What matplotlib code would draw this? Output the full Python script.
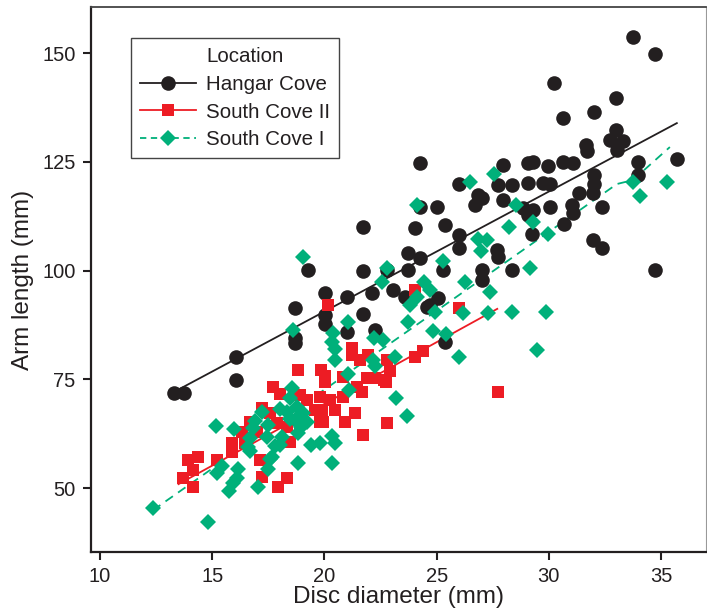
import numpy as np
import matplotlib
matplotlib.use("Agg")
import matplotlib.pyplot as plt
from matplotlib.lines import Line2D

plt.rcParams['font.family'] = ['Liberation Sans', 'DejaVu Sans']

# Hangar Cove (disc diameter, arm length), mm
hc_disc = [13.30, 13.74, 16.06, 16.06, 18.69, 18.69, 18.69, 19.27, 20.02, 20.02,
           20.02, 21.00, 21.00, 21.71, 21.71, 21.71, 22.12, 22.25, 23.05, 24.03,
           23.72, 24.25, 23.72, 24.57, 23.59, 24.25, 24.25, 25.01, 25.37, 25.28,
           24.70, 25.06, 25.37, 25.99, 26.84, 26.70, 27.02, 25.99, 25.99, 27.68,
           27.73, 27.02, 27.02, 28.35, 27.95, 29.06, 29.29, 29.96, 30.62, 31.07,
           27.73, 28.35, 29.06, 29.73, 30.04, 27.95, 28.84, 29.06, 29.24, 30.04,
           29.29, 30.67, 31.02, 31.07, 31.34, 32.00, 32.00, 31.96, 32.36, 31.96,
           32.36, 30.22, 30.62, 32.00, 32.98, 33.74, 34.72, 31.65, 31.69, 32.98,
           32.72, 33.30, 33.03, 33.96, 33.96, 35.70, 34.72, 22.78]
hc_arm = [71.8, 71.8, 80.1, 74.8, 91.4, 84.5, 83.3, 100.1, 94.8, 89.8,
          87.7, 93.9, 85.9, 110.0, 99.9, 90.0, 94.8, 86.3, 95.5, 109.8,
          104.0, 102.9, 100.1, 91.6, 93.9, 124.7, 114.6, 114.6, 110.5, 100.1,
          92.1, 93.7, 83.6, 119.9, 117.4, 115.1, 116.7, 108.2, 105.2, 104.7,
          103.1, 100.1, 97.8, 100.1, 124.3, 124.7, 124.9, 124.0, 124.9, 124.7,
          119.7, 119.7, 120.1, 120.1, 119.9, 116.2, 114.4, 112.8, 108.4, 114.6,
          113.9, 110.7, 115.1, 113.2, 117.8, 122.0, 119.9, 117.8, 114.6, 107.0,
          105.2, 143.1, 135.1, 136.4, 139.7, 153.7, 149.8, 128.9, 127.5, 132.3,
          130.0, 129.8, 127.7, 124.9, 122.0, 125.6, 100.1, 100.1]

# South Cove II
sc2_disc = [13.70, 14.14, 14.14, 13.92, 14.37, 15.21, 15.88, 15.88, 16.46, 16.68,
            17.22, 17.71, 18.02, 17.88, 17.22, 17.93, 18.33, 17.13, 16.33, 16.99,
            18.46, 18.91, 18.82, 19.84, 20.02, 19.22, 19.80, 20.24, 20.47, 19.58,
            19.89, 20.82, 21.45, 21.67, 21.89, 21.58, 21.94, 21.22, 21.22, 20.16,
            21.36, 20.91, 21.71, 19.80, 18.33, 18.91, 19.93, 17.57, 22.65, 22.78,
            22.92, 22.74, 22.78, 24.03, 24.03, 24.39, 25.99, 27.73, 22.25, 20.82,
            20.02]
sc2_arm = [52.3, 50.2, 54.1, 56.4, 57.1, 56.4, 60.3, 58.3, 60.3, 65.2,
           68.4, 73.2, 71.6, 64.9, 52.5, 50.2, 52.3, 56.4, 62.9, 62.9,
           60.6, 71.4, 77.1, 77.1, 75.7, 70.2, 70.9, 70.2, 67.9, 67.9,
           67.9, 70.9, 73.2, 72.1, 75.3, 79.4, 80.6, 82.2, 80.6, 92.1,
           67.2, 65.2, 62.2, 65.2, 64.0, 64.9, 65.2, 67.2, 74.8, 79.4,
           76.9, 74.4, 64.9, 95.5, 80.1, 81.5, 91.4, 72.1, 75.3, 75.5,
           74.4]

# South Cove I
sc1_disc = [12.36, 14.81, 15.17, 15.97, 15.21, 15.43, 15.75, 15.92, 16.10, 16.15,
            16.68, 16.68, 16.90, 17.22, 17.48, 17.44, 17.80, 17.57, 17.48, 17.04,
            18.02, 18.33, 18.46, 18.55, 18.46, 18.78, 19.04, 19.22, 18.82, 18.95,
            18.02, 18.82, 19.40, 19.80, 20.33, 20.47, 20.33, 18.60, 20.38, 20.33,
            20.47, 20.47, 21.05, 21.05, 21.09, 22.20, 22.61, 22.16, 22.25, 23.14,
            23.18, 23.67, 22.56, 22.78, 19.04, 24.12, 24.43, 24.70, 24.12, 23.81,
            23.72, 24.92, 24.83, 25.41, 25.28, 26.26, 27.37, 25.99, 26.17, 27.28,
            28.35, 29.87, 29.47, 26.48, 27.55, 28.53, 29.29, 28.22, 29.96, 26.84,
            27.24, 26.97, 29.15, 33.74, 34.05, 35.26, 17.66, 16.59, 16.82, 18.11,
            18.69]
sc1_arm = [45.4, 42.2, 64.3, 63.6, 53.4, 55.1, 49.3, 51.1, 52.3, 54.4,
           58.5, 61.5, 65.4, 67.5, 64.5, 61.7, 59.7, 56.7, 54.4, 50.2,
           68.2, 67.5, 65.9, 73.0, 70.7, 68.6, 67.2, 65.2, 62.6, 64.0,
           59.9, 55.7, 59.9, 60.3, 61.9, 60.3, 55.7, 86.3, 85.6, 83.6,
           82.0, 79.4, 88.2, 76.2, 72.5, 84.5, 84.0, 79.4, 78.0, 80.1,
           70.7, 66.6, 97.4, 100.6, 103.1, 115.1, 97.4, 95.5, 93.9, 92.1,
           88.2, 90.5, 86.1, 85.4, 102.2, 97.4, 95.1, 80.1, 90.2, 90.2,
           90.5, 90.5, 81.7, 120.3, 122.2, 115.1, 111.1, 110.0, 108.4, 107.2,
           107.0, 104.5, 100.6, 120.3, 117.1, 120.3, 57.1, 59.4, 63.8, 61.7,
           65.6]

# fitted lines
hc_fit_x, hc_fit_y = [13.3, 35.7], [72.1, 133.9]
sc2_fit_x, sc2_fit_y = [13.5, 27.7], [50.9, 91.2]
sc1_fit_x, sc1_fit_y = [12.36, 33.03, 33.74, 35.39], [44.9, 119.9, 120.8, 128.4]

black = '#231f20'
red = '#ed1c24'
green = '#00b07a'

fig = plt.figure(figsize=(7.07, 6.14), dpi=100)
ax = fig.add_axes([0.1287, 0.1010, 0.8699, 0.8876])

ax.plot(hc_fit_x, hc_fit_y, color=black, lw=1.3, zorder=1)
ax.plot(sc2_fit_x, sc2_fit_y, color=red, lw=1.3, zorder=1)
ax.plot(sc1_fit_x, sc1_fit_y, color=green, lw=1.3, ls=(0, (5, 3.5)), zorder=1)

ax.plot(hc_disc, hc_arm, 'o', color=black, ms=10.5, mew=0, zorder=2)
ax.plot(sc2_disc, sc2_arm, 's', color=red, ms=9.2, mew=0, zorder=3)
ax.plot(sc1_disc, sc1_arm, 'D', color=green, ms=8, mew=0, zorder=4)

ax.set_xlim(9.6, 37.0)
ax.set_ylim(35.3, 160.6)
ax.set_xticks([10, 15, 20, 25, 30, 35])
ax.set_yticks([50, 75, 100, 125, 150])
ax.tick_params(direction='out', length=6, width=1.5, labelsize=14.5, colors=black, pad=5)
ax.set_xlabel('Disc diameter (mm)', fontsize=17.5, color=black, labelpad=0)
ax.set_ylabel('Arm length (mm)', fontsize=17.5, color=black, labelpad=6)

for side in ['left', 'bottom']:
    ax.spines[side].set_linewidth(1.6)
    ax.spines[side].set_color(black)
ax.spines['top'].set_linewidth(1.3)
ax.spines['top'].set_color('#444444')
ax.spines['right'].set_linewidth(0.8)
ax.spines['right'].set_color('#999999')

handles = [
    Line2D([], [], ls='none'),
    Line2D([], [], color=black, lw=1.3, marker='o', ms=10.5, mew=0),
    Line2D([], [], color=red, lw=1.3, marker='s', ms=9.2, mew=0),
    Line2D([], [], color=green, lw=1.3, ls=(0, (3.5, 2.5)), marker='D', ms=8, mew=0),
]
labels = ['Location', 'Hangar Cove', 'South Cove II', 'South Cove I']
leg = ax.legend(handles, labels, loc='upper left', bbox_to_anchor=(0.065, 0.943),
                fontsize=14.8, frameon=True, fancybox=False, framealpha=1,
                edgecolor='#444444', handlelength=2.7, handletextpad=0.5,
                labelspacing=0.42, borderpad=0.45, borderaxespad=0)
leg.get_frame().set_linewidth(1.0)
for t in leg.get_texts():
    t.set_color(black)

fig.savefig('out.png', dpi=100)
